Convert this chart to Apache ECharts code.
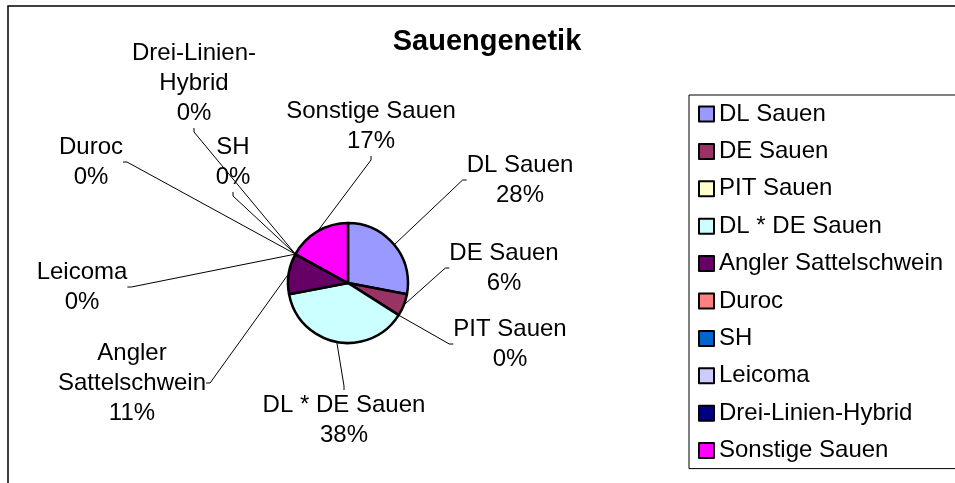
<!DOCTYPE html>
<html lang="de">

<head>
    <meta charset="UTF-8">
    <title>Sauengenetik</title>
    <script src="https://cdn.jsdelivr.net/npm/echarts@6/dist/echarts.min.js"></script>
    <style>
        html, body { margin: 0; padding: 0; background: #fff; }
        #main { width: 955px; height: 483px; }
    </style>
</head>

<body>
    <div id="main"></div>
    <script type="text/javascript">
        // Kategorien und Anteile (in %)
        var names = ['DL Sauen', 'DE Sauen', 'PIT Sauen', 'DL * DE Sauen', 'Angler Sattelschwein',
            'Duroc', 'SH', 'Leicoma', 'Drei-Linien-Hybrid', 'Sonstige Sauen'];
        var values = [28, 6, 0, 38, 11, 0, 0, 0, 0, 17];
        var colors = ['#9999FF', '#993366', '#FFFFCC', '#CCFFFF', '#660066',
            '#FF8080', '#0066CC', '#CCCCFF', '#000080', '#FF00FF'];

        // wo Excel die Beschriftungen hingesetzt hat (Mitte des Textblocks)
        var labelPos = [[520, 180], [504, 268], [510, 344], [344, 420], [132, 383],
            [91, 162], [233, 162], [82, 287], [194, 83], [371, 126]];
        // Zeilenumbrüche wie im Original
        var labelNames = {
            'Drei-Linien-Hybrid': 'Drei-Linien-\nHybrid',
            'Angler Sattelschwein': 'Angler\nSattelschwein'
        };

        var font = '"Liberation Sans", Arial, sans-serif';

        var data = [];
        for (var i = 0; i < names.length; i++) {
            data.push({ name: names[i], value: values[i] });
        }

        var myChart = echarts.init(document.getElementById('main'));
        var option = {
            backgroundColor: '#fff',
            animation: false,
            color: colors,
            title: {
                text: 'Sauengenetik',
                left: 487,
                textAlign: 'center',
                top: 27,
                padding: 0,
                textStyle: { fontFamily: font, fontSize: 29, fontWeight: 'bold', color: '#000' }
            },
            legend: {
                orient: 'vertical',
                left: 689,
                top: 95,
                padding: [5, 20, 4, 9],
                itemGap: 9.4,
                itemWidth: 15,
                itemHeight: 15,
                icon: 'rect',
                selectedMode: false,
                borderColor: '#000',
                borderWidth: 1,
                itemStyle: { borderColor: '#000', borderWidth: 2 },
                textStyle: { fontFamily: font, fontSize: 24, color: '#000', lineHeight: 28 },
                data: names
            },
            graphic: [{
                type: 'rect',
                shape: { x: 8, y: 6, width: 1000, height: 500 },
                style: { fill: 'none', stroke: '#000', lineWidth: 1.5 },
                silent: true
            }],
            series: [{
                name: 'Sauengenetik',
                type: 'pie',
                center: [348, 283],
                radius: 60,
                startAngle: 90,
                clockwise: true,
                avoidLabelOverlap: false,
                minShowLabelAngle: 0,
                itemStyle: { borderColor: '#000', borderWidth: 2.5 },
                label: {
                    show: true,
                    fontFamily: font,
                    fontSize: 24,
                    lineHeight: 30,
                    color: '#000',
                    align: 'center',
                    formatter: function (p) {
                        var n = labelNames[p.name] || p.name;
                        return n + '\n' + Math.round(p.percent) + '%';
                    }
                },
                labelLine: {
                    show: true,
                    length: 10,
                    length2: 4,
                    lineStyle: { color: '#000', width: 1 }
                },
                labelLayout: function (params) {
                    var pos = labelPos[params.dataIndex];
                    return {
                        x: pos[0],
                        y: pos[1],
                        align: 'center',
                        verticalAlign: 'middle'
                    };
                },
                emphasis: { disabled: true },
                data: data
            }]
        };

        option && myChart.setOption(option);
    </script>
</body>

</html>
